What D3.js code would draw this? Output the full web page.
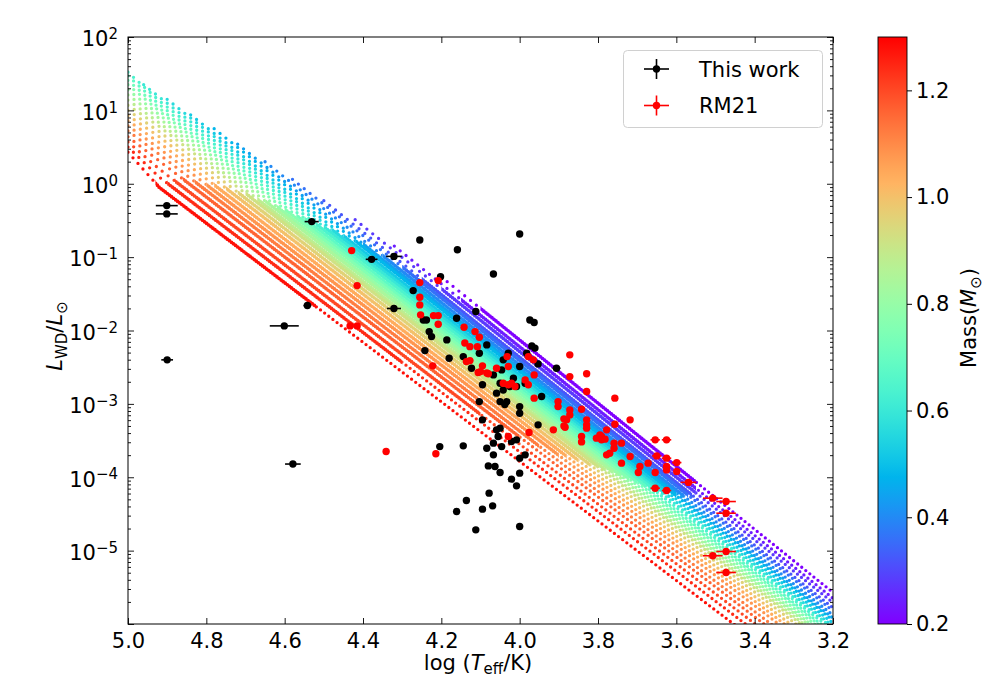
<!DOCTYPE html>
<html>
<head>
<meta charset="utf-8">
<script src="https://cdn.jsdelivr.net/npm/d3@7"></script>
<style>
body { margin: 0; background: #fff; }
text { font-family: "DejaVu Sans", sans-serif; fill: #000; }
</style>
</head>
<body>
<svg id="chart" width="995" height="681"></svg>
<script>
// ---- data ----
// cooling-track grid: mass and [logT, logL] vertices, hot end first
var trackMass = [0.20, 0.24, 0.28, 0.32, 0.36, 0.40, 0.44, 0.48, 0.52, 0.56, 0.60, 0.64, 0.68, 0.72,
                 0.76, 0.80, 0.84, 0.88, 0.92, 0.96, 1.00, 1.04, 1.08, 1.12, 1.16, 1.20, 1.24, 1.28];
var trackPoints = [
  [[4.20, -1.27], [3.20, -5.57]],
  [[4.32, -0.85], [3.20, -5.65]],
  [[4.42, -0.49], [3.20, -5.71]],
  [[4.50, -0.23], [3.20, -5.78]],
  [[4.58, 0.06], [3.20, -5.82]],
  [[4.65, 0.30], [3.20, -5.88]],
  [[4.72, 0.54], [3.20, -5.92]],
  [[4.78, 0.75], [3.20, -5.95]],
  [[4.84, 0.94], [3.20, -5.99]],
  [[4.90, 1.15], [3.20, -6.03]],
  [[4.96, 1.35], [3.20, -6.06]],
  [[5.00, 1.52], [4.92, 1.13], [3.20, -6.09]],
  [[5.00, 1.47], [4.92, 1.08], [3.20, -6.13]],
  [[5.00, 1.41], [4.92, 1.03], [3.20, -6.16]],
  [[5.00, 1.35], [4.92, 0.99], [3.20, -6.20]],
  [[5.00, 1.28], [4.92, 0.94], [3.20, -6.24]],
  [[5.00, 1.21], [4.92, 0.89], [3.20, -6.27]],
  [[5.00, 1.14], [4.92, 0.83], [3.20, -6.31]],
  [[5.00, 1.07], [4.92, 0.78], [3.20, -6.34]],
  [[5.00, 1.00], [4.92, 0.71], [3.20, -6.39]],
  [[5.00, 0.93], [4.92, 0.64], [3.20, -6.45]],
  [[5.00, 0.86], [4.92, 0.56], [3.20, -6.51]],
  [[5.00, 0.79], [4.92, 0.48], [3.20, -6.57]],
  [[5.00, 0.72], [4.92, 0.40], [3.20, -6.65]],
  [[5.00, 0.64], [4.92, 0.31], [3.20, -6.72]],
  [[5.00, 0.57], [4.92, 0.20], [3.20, -6.81]],
  [[5.00, 0.50], [4.92, 0.09], [3.20, -6.91]],
  [[5.00, 0.43], [4.92, -0.05], [3.20, -7.03]]
];
// logT range where each track's points are densely packed (hot edge, cool edge)
var trackDense = [
  [4.10, 3.55], [4.15, 3.55], [4.20, 3.55], [4.25, 3.56], [4.30, 3.57], [4.35, 3.58], [4.40, 3.60],
  [4.42, 3.60], [4.45, 3.62], [4.48, 3.63], [4.50, 3.65], [4.52, 3.66], [4.55, 3.68], [4.57, 3.70],
  [4.60, 3.72], [4.62, 3.74], [4.65, 3.76], [4.67, 3.78], [4.70, 3.80], [4.72, 3.82], [4.75, 3.85],
  [4.78, 3.88], [4.80, 3.90], [4.83, 3.95], [4.86, 4.00], [4.88, 4.10], [4.90, 4.30], [4.93, 4.52]
];

// observed white dwarfs: [logT, logL, xerr]
var thisWork = [
  [4.901, -0.298, 0.028], [4.901, -0.411, 0.028], [4.900, -2.400, 0.015], [4.579, -3.820, 0.020],
  [4.601, -1.937, 0.037], [4.542, -1.660, 0.010], [4.531, -0.516, 0.018], [4.378, -1.030, 0.015],
  [4.321, -0.990, 0.020], [4.321, -1.700, 0.018], [4.255, -0.766, 0], [4.159, -0.900, 0],
  [4.000, -0.684, 0], [4.067, -1.229, 0], [4.202, -1.266, 0], [4.272, -1.456, 0],
  [4.246, -1.856, 0], [4.238, -1.856, 0], [4.231, -2.015, 0], [4.225, -2.083, 0],
  [4.242, -2.274, 0], [4.186, -2.128, 0], [4.180, -2.378, 0], [4.161, -1.833, 0],
  [4.112, -1.742, 0], [4.084, -2.196, 0], [4.144, -2.356, 0], [4.103, -2.310, 0],
  [3.974, -1.856, 0], [3.963, -1.890, 0], [3.969, -2.210, 0], [3.961, -2.240, 0],
  [3.982, -2.310, 0], [4.029, -2.310, 0], [4.042, -2.400, 0], [4.000, -2.490, 0],
  [3.953, -2.455, 0], [3.906, -2.514, 0.010], [4.095, -2.740, 0], [4.067, -2.605, 0],
  [4.050, -2.718, 0], [4.016, -2.650, 0], [3.986, -2.718, 0], [4.025, -2.764, 0],
  [4.008, -2.764, 0], [4.046, -2.537, 0], [4.123, -2.514, 0], [4.059, -2.854, 0],
  [4.042, -2.810, 0], [4.050, -2.969, 0], [4.033, -2.969, 0], [4.038, -3.010, 0],
  [4.000, -3.037, 0], [4.000, -3.127, 0], [4.103, -2.969, 0], [3.953, -3.286, 0],
  [4.095, -3.218, 0], [4.059, -3.354, 0], [4.050, -3.331, 0], [4.055, -3.445, 0],
  [4.067, -3.535, 0], [4.084, -3.604, 0], [4.046, -3.582, 0], [4.067, -3.695, 0],
  [4.021, -3.513, 0], [4.008, -3.490, 0], [3.986, -3.695, 0], [4.000, -3.740, 0],
  [4.144, -3.572, 0], [4.204, -3.582, 0], [4.080, -3.845, 0], [4.063, -3.854, 0],
  [4.050, -3.935, 0], [4.021, -4.026, 0], [4.008, -4.117, 0], [4.000, -3.944, 0],
  [4.078, -4.217, 0], [4.136, -4.317, 0], [4.161, -4.467, 0], [4.095, -4.435, 0],
  [4.069, -4.390, 0], [4.112, -4.717, 0], [4.000, -4.671, 0], [3.944, -2.900, 0]
];
var rm21 = [
  [4.429, -0.911, 0], [4.415, -1.388, 0], [4.433, -1.937, 0], [4.415, -1.937, 0],
  [4.341, -3.650, 0], [4.214, -3.680, 0], [4.255, -1.347, 0], [4.208, -1.320, 0],
  [4.255, -1.547, 0], [4.255, -1.651, 0], [4.253, -1.787, 0], [4.220, -1.797, 0],
  [4.208, -1.797, 0], [4.208, -1.914, 0], [4.222, -2.482, 0], [4.142, -1.955, 0],
  [4.114, -2.015, 0], [4.103, -2.091, 0], [4.140, -2.170, 0], [4.127, -2.220, 0],
  [4.108, -2.220, 0], [4.127, -2.410, 0], [4.095, -2.482, 0], [4.106, -2.573, 0],
  [4.080, -2.590, 0], [4.059, -2.514, 0], [4.032, -2.356, 0], [4.029, -2.490, 0],
  [4.042, -2.718, 0], [4.021, -2.718, 0], [3.978, -2.356, 0], [3.965, -2.400, 0],
  [3.963, -2.605, 0], [3.978, -2.740, 0], [3.872, -2.332, 0], [3.872, -2.628, 0],
  [3.829, -2.590, 0], [3.829, -2.832, 0], [3.902, -2.969, 0], [3.902, -3.037, 0],
  [3.872, -3.082, 0], [3.880, -3.218, 0], [3.842, -3.073, 0], [3.829, -3.218, 0],
  [3.829, -3.331, 0], [3.884, -3.318, 0], [3.842, -3.445, 0], [3.804, -3.467, 0],
  [3.791, -3.445, 0], [3.778, -3.695, 0], [3.963, -2.922, 0], [4.029, -2.740, 0],
  [4.012, -2.764, 0], [4.100, -2.560, 0], [4.084, -2.580, 0], [4.136, -2.424, 0],
  [3.986, -2.673, 0], [4.029, -3.445, 0], [3.976, -3.390, 0], [3.914, -3.354, 0],
  [3.757, -2.922, 0], [3.718, -3.218, 0], [3.757, -3.277, 0], [3.872, -3.150, 0],
  [3.887, -3.204, 0], [3.887, -3.300, 0], [3.829, -3.286, 0], [3.842, -3.518, 0],
  [3.782, -3.481, 0], [3.795, -3.422, 0], [3.791, -3.490, 0], [3.778, -3.354, 0],
  [3.759, -3.535, 0], [3.740, -3.535, 0], [3.759, -3.604, 0], [3.770, -3.672, 0],
  [3.740, -3.808, 0], [3.718, -3.718, 0], [3.654, -3.490, 0.012], [3.625, -3.490, 0.012],
  [3.650, -3.709, 0.012], [3.625, -3.740, 0.012], [3.599, -3.800, 0.012], [3.625, -3.854, 0],
  [3.693, -3.854, 0], [3.672, -3.808, 0], [3.697, -3.935, 0], [3.654, -3.935, 0],
  [3.625, -3.900, 0], [3.599, -3.920, 0], [3.569, -4.070, 0.020], [3.654, -4.149, 0.012],
  [3.625, -4.181, 0.012], [3.507, -4.285, 0.025], [3.473, -4.331, 0.025], [3.473, -4.490, 0.025],
  [3.507, -5.070, 0.025], [3.473, -5.012, 0.025], [3.473, -5.298, 0.025]
];

var xTicks = [5.0, 4.8, 4.6, 4.4, 4.2, 4.0, 3.8, 3.6, 3.4, 3.2];
var yExponents = [-6, -5, -4, -3, -2, -1, 0, 1, 2];
var yLabelExponents = [-5, -4, -3, -2, -1, 0, 1, 2];
var cbarTicks = [0.2, 0.4, 0.6, 0.8, 1.0, 1.2];
var legendItems = [{ name: "This work", color: "#000" }, { name: "RM21", color: "red" }];

// ---- layout ----
var svg = d3.select("#chart");
var defs = svg.append("defs");
var plot = { left: 128, right: 833, top: 37, bottom: 624 };
var cbar = { left: 878, width: 29, top: 37, bottom: 624 };

var x = d3.scaleLinear().domain([5.0, 3.2]).range([plot.left, plot.right]);
var y = d3.scaleLog().domain([1e-6, 1e2]).range([plot.bottom, plot.top]);

// matplotlib "rainbow" colormap
function rainbow(t) {
  var r = Math.min(1, Math.abs(2 * t - 0.5));
  var g = Math.max(0, Math.sin(Math.PI * t));
  var b = Math.max(0, Math.cos(Math.PI * t / 2));
  return d3.rgb(r * 255, g * 255, b * 255).toString();
}
var color = d3.scaleSequential(rainbow).domain([0.2, 1.3]);

defs.append("clipPath").attr("id", "clip")
  .append("rect")
  .attr("x", plot.left).attr("y", plot.top)
  .attr("width", plot.right - plot.left).attr("height", plot.bottom - plot.top);

// tracks, drawn as dotted lines: sparse at the hot end, packed in the middle, looser at the cool end
var line = d3.line()
  .x(function(d) { return x(d[0]); })
  .y(function(d) { return y(Math.pow(10, d[1])); });
var dashes = ["0 7.5", "0 2.6", "0 5.2"];
var widths = [3.3, 3.7, 3.3];

var tg = svg.append("g").attr("clip-path", "url(#clip)");
trackPoints.forEach(function(pts, i) {
  var xh = x(trackDense[i][0]), xc = x(trackDense[i][1]);
  var spans = [[plot.left - 10, xh], [xh, xc], [xc, plot.right + 10]];
  spans.forEach(function(s, k) {
    var id = "tc" + i + "_" + k;
    defs.append("clipPath").attr("id", id).append("rect")
      .attr("x", s[0]).attr("y", 0).attr("width", s[1] - s[0]).attr("height", 681);
    tg.append("path")
      .attr("d", line(pts))
      .attr("clip-path", "url(#" + id + ")")
      .attr("fill", "none")
      .attr("stroke", color(trackMass[i]))
      .attr("stroke-width", widths[k])
      .attr("stroke-linecap", "round")
      .attr("stroke-dasharray", dashes[k]);
  });
});

// observed points
function drawSet(data, col) {
  var g = svg.append("g").attr("clip-path", "url(#clip)");
  g.selectAll("line")
    .data(data.filter(function(d) { return d[2] > 0; }))
    .enter().append("line")
    .attr("x1", function(d) { return x(d[0] + d[2]); })
    .attr("x2", function(d) { return x(d[0] - d[2]); })
    .attr("y1", function(d) { return y(Math.pow(10, d[1])); })
    .attr("y2", function(d) { return y(Math.pow(10, d[1])); })
    .attr("stroke", col).attr("stroke-width", 1.6);
  g.selectAll("circle")
    .data(data)
    .enter().append("circle")
    .attr("cx", function(d) { return x(d[0]); })
    .attr("cy", function(d) { return y(Math.pow(10, d[1])); })
    .attr("r", 3.7)
    .attr("fill", col);
}
drawSet(thisWork, "#000");
drawSet(rm21, "red");

// ---- axes ----
var fs = 21;
svg.append("g").attr("transform", "translate(0," + plot.bottom + ")")
  .call(d3.axisBottom(x).tickValues(xTicks).tickSize(-6).tickSizeOuter(0).tickPadding(9)
    .tickFormat(d3.format(".1f")));
svg.append("g").attr("transform", "translate(0," + plot.top + ")")
  .call(d3.axisTop(x).tickValues(xTicks).tickSize(-6).tickSizeOuter(0).tickFormat(""));

var majors = yExponents.map(function(e) { return Math.pow(10, e); });
var minors = y.ticks().filter(function(v) {
  return Math.abs(Math.log10(v) - Math.round(Math.log10(v))) > 1e-6;
});
var yl = svg.append("g").attr("transform", "translate(" + plot.left + ",0)")
  .call(d3.axisLeft(y).tickValues(majors).tickSize(-6).tickSizeOuter(0).tickPadding(10)
    .tickFormat(function() { return ""; }));
svg.append("g").attr("transform", "translate(" + plot.left + ",0)")
  .call(d3.axisLeft(y).tickValues(minors).tickSize(-3).tickSizeOuter(0).tickFormat(""));
svg.append("g").attr("transform", "translate(" + plot.right + ",0)")
  .call(d3.axisRight(y).tickValues(majors).tickSize(-6).tickSizeOuter(0).tickFormat(""));
svg.append("g").attr("transform", "translate(" + plot.right + ",0)")
  .call(d3.axisRight(y).tickValues(minors).tickSize(-3).tickSizeOuter(0).tickFormat(""));

svg.selectAll(".domain").remove();
svg.selectAll(".tick line").attr("stroke", "#000").attr("stroke-width", 0.9);
svg.selectAll(".tick text").attr("font-size", fs).attr("font-family", "DejaVu Sans").attr("fill", "#000");

// y tick labels as 10^n
yl.selectAll(".tick text").each(function(d) {
  var e = Math.round(Math.log10(d));
  var t = d3.select(this).text(null).attr("dy", "0.42em");
  if (yLabelExponents.indexOf(e) < 0) return;
  t.append("tspan").text("10");
  t.append("tspan").attr("dy", "-0.48em").attr("font-size", 15)
    .text(e < 0 ? "\u2212" + (-e) : String(e));
});

svg.append("rect")
  .attr("x", plot.left).attr("y", plot.top)
  .attr("width", plot.right - plot.left).attr("height", plot.bottom - plot.top)
  .attr("fill", "none").attr("stroke", "#000").attr("stroke-width", 1);

// axis labels
var xlab = svg.append("text").attr("x", 478).attr("y", 670).attr("text-anchor", "middle").attr("font-size", fs);
xlab.append("tspan").text("log (");
xlab.append("tspan").attr("font-style", "italic").text("T");
xlab.append("tspan").attr("font-size", 15).attr("dy", 4).text("eff");
xlab.append("tspan").attr("dy", -4).text("/K)");

var ylab = svg.append("text").attr("transform", "translate(62,336) rotate(-90)")
  .attr("text-anchor", "middle").attr("font-size", fs);
ylab.append("tspan").attr("font-style", "italic").text("L");
ylab.append("tspan").attr("font-size", 15).attr("dy", 5).text("WD");
ylab.append("tspan").attr("dy", -5).text("/");
ylab.append("tspan").attr("font-style", "italic").text("L");
ylab.append("tspan").attr("font-size", 15).attr("dy", 5).text("\u2299");

// ---- colorbar ----
var cy = d3.scaleLinear().domain([0.2, 1.3]).range([cbar.bottom, cbar.top]);
var grad = defs.append("linearGradient").attr("id", "cgrad")
  .attr("x1", 0).attr("y1", 1).attr("x2", 0).attr("y2", 0);
d3.range(0, 1.0001, 0.025).forEach(function(t) {
  grad.append("stop").attr("offset", t).attr("stop-color", rainbow(t));
});
svg.append("rect")
  .attr("x", cbar.left).attr("y", cbar.top)
  .attr("width", cbar.width).attr("height", cbar.bottom - cbar.top)
  .attr("fill", "url(#cgrad)").attr("stroke", "#000").attr("stroke-width", 0.9);
var cax = svg.append("g").attr("transform", "translate(" + (cbar.left + cbar.width) + ",0)")
  .call(d3.axisRight(cy).tickValues(cbarTicks).tickSize(5).tickSizeOuter(0).tickPadding(4)
    .tickFormat(d3.format(".1f")));
cax.select(".domain").remove();
cax.selectAll(".tick line").attr("stroke", "#000");
cax.selectAll(".tick text").attr("font-size", fs).attr("font-family", "DejaVu Sans").attr("fill", "#000");

var clab = svg.append("text").attr("transform", "translate(976,318) rotate(-90)")
  .attr("text-anchor", "middle").attr("font-size", fs);
clab.append("tspan").text("Mass(");
clab.append("tspan").attr("font-style", "italic").text("M");
clab.append("tspan").attr("font-size", 15).attr("dy", 5).text("\u2299");
clab.append("tspan").attr("dy", -5).text(")");

// ---- legend ----
var lg = svg.append("g");
lg.append("rect").attr("x", 623.5).attr("y", 50.5).attr("width", 199).attr("height", 77)
  .attr("rx", 4).attr("fill", "#fff").attr("fill-opacity", 0.8)
  .attr("stroke", "#d0d0d0").attr("stroke-width", 1);
legendItems.forEach(function(it, i) {
  var cyy = 69 + i * 36.5;
  lg.append("line").attr("x1", 644).attr("x2", 669).attr("y1", cyy).attr("y2", cyy)
    .attr("stroke", it.color).attr("stroke-width", 1.6);
  lg.append("line").attr("x1", 656.5).attr("x2", 656.5).attr("y1", cyy - 10).attr("y2", cyy + 10)
    .attr("stroke", it.color).attr("stroke-width", 1.6);
  lg.append("circle").attr("cx", 656.5).attr("cy", cyy).attr("r", 3.7).attr("fill", it.color);
  lg.append("text").attr("x", 699).attr("y", cyy).attr("dy", "0.36em").attr("font-size", fs).text(it.name);
});
</script>
</body>
</html>
